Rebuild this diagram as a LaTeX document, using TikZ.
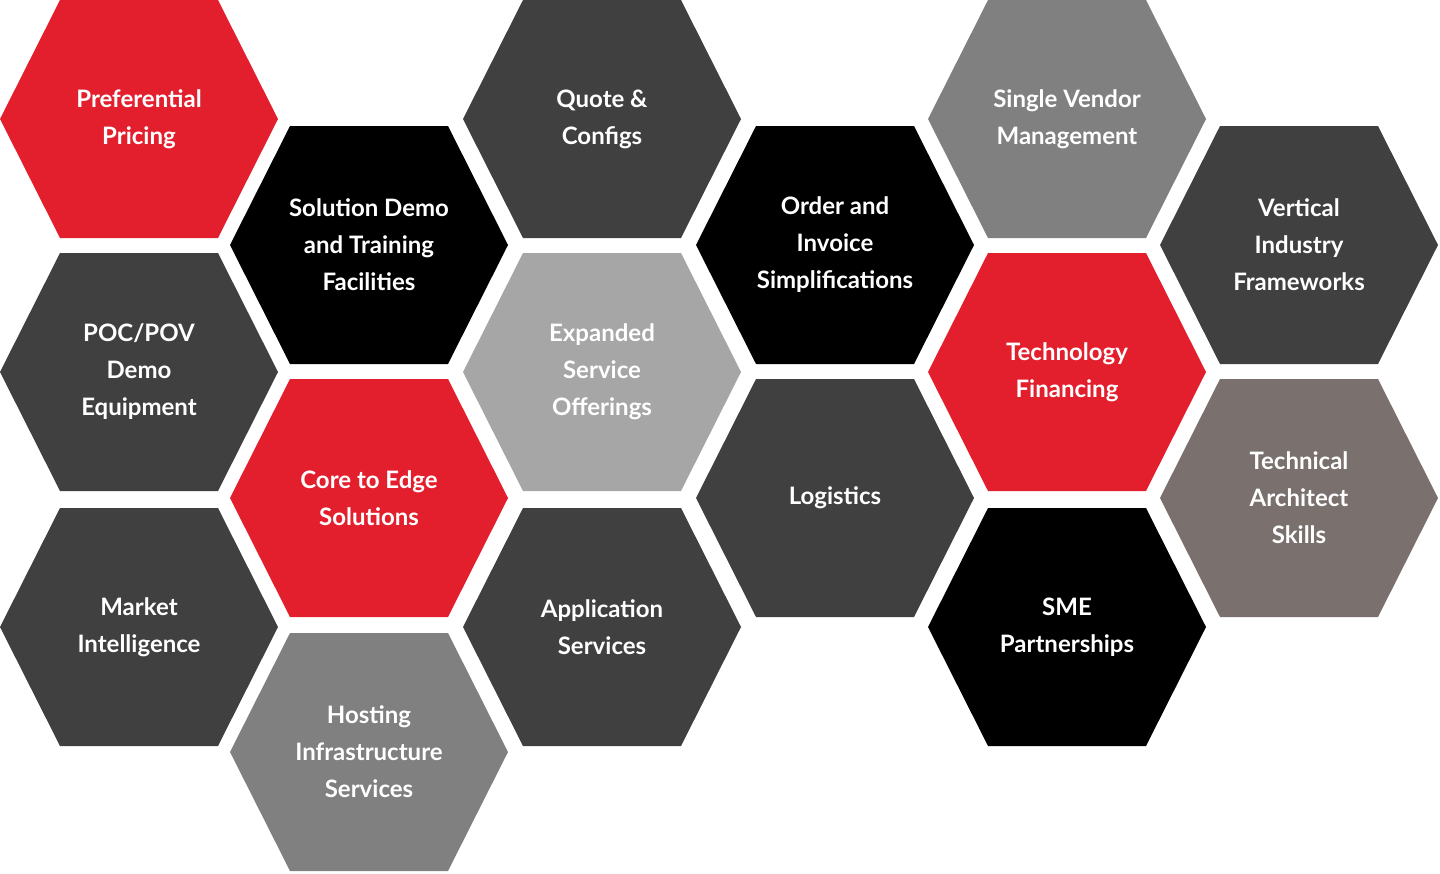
\documentclass[tikz,border=0pt]{standalone}
\usepackage{fontspec}
\setmainfont{Lato}
\definecolor{hexred}{HTML}{E31F2D}
\definecolor{hexdark}{HTML}{404040}
\definecolor{hexgrey}{HTML}{808080}
\definecolor{hexlight}{HTML}{A6A6A6}
\definecolor{hexbrown}{HTML}{7A706E}
\tikzset{
  hexlabel/.style={text=white, align=center, font=\bfseries\fontsize{12}{18.5}\selectfont}
}
\newcommand{\hexcell}[5]{%
  \fill[#4] (#2-139,#3) -- (#2-79,#3-119) -- (#2+79,#3-119) -- (#2+139,#3)
    -- (#2+79,#3+119) -- (#2-79,#3+119) -- cycle;
  \node[hexlabel] (#1) at (#2,#3) {#5};
}
\begin{document}
\begin{tikzpicture}[x=0.5pt,y=-0.5pt]
  \useasboundingbox (0,0) rectangle (1440,873);
  % column 1
  \hexcell{pricing}{139}{119}{hexred}{Preferential\\Pricing}
  \hexcell{poc}{139}{372}{hexdark}{POC/POV\\Demo\\Equipment}
  \hexcell{market}{139}{627}{hexdark}{Market\\Intelligence}
  % column 2
  \hexcell{demo}{369}{245}{black}{Solution Demo\\and Training\\Facilities}
  \hexcell{edge}{369}{498}{hexred}{Core to Edge\\Solutions}
  \hexcell{hosting}{369}{752}{hexgrey}{Hosting\\Infrastructure\\Services}
  % column 3
  \hexcell{quote}{602}{119}{hexdark}{Quote \&\\Configs}
  \hexcell{expanded}{602}{372}{hexlight}{Expanded\\Service\\Offerings}
  \hexcell{application}{602}{627}{hexdark}{Application\\Services}
  % column 4
  \hexcell{order}{835}{245}{black}{Order and\\Invoice\\Simplifications}
  \hexcell{logistics}{835}{498}{hexdark}{Logistics}
  % column 5
  \hexcell{vendor}{1067}{119}{hexgrey}{Single Vendor\\Management}
  \hexcell{financing}{1067}{372}{hexred}{Technology\\Financing}
  \hexcell{sme}{1067}{627}{black}{SME\\Partnerships}
  % column 6
  \hexcell{vertical}{1299}{245}{hexdark}{Vertical\\Industry\\Frameworks}
  \hexcell{architect}{1299}{498}{hexbrown}{Technical\\Architect\\Skills}
\end{tikzpicture}
\end{document}
